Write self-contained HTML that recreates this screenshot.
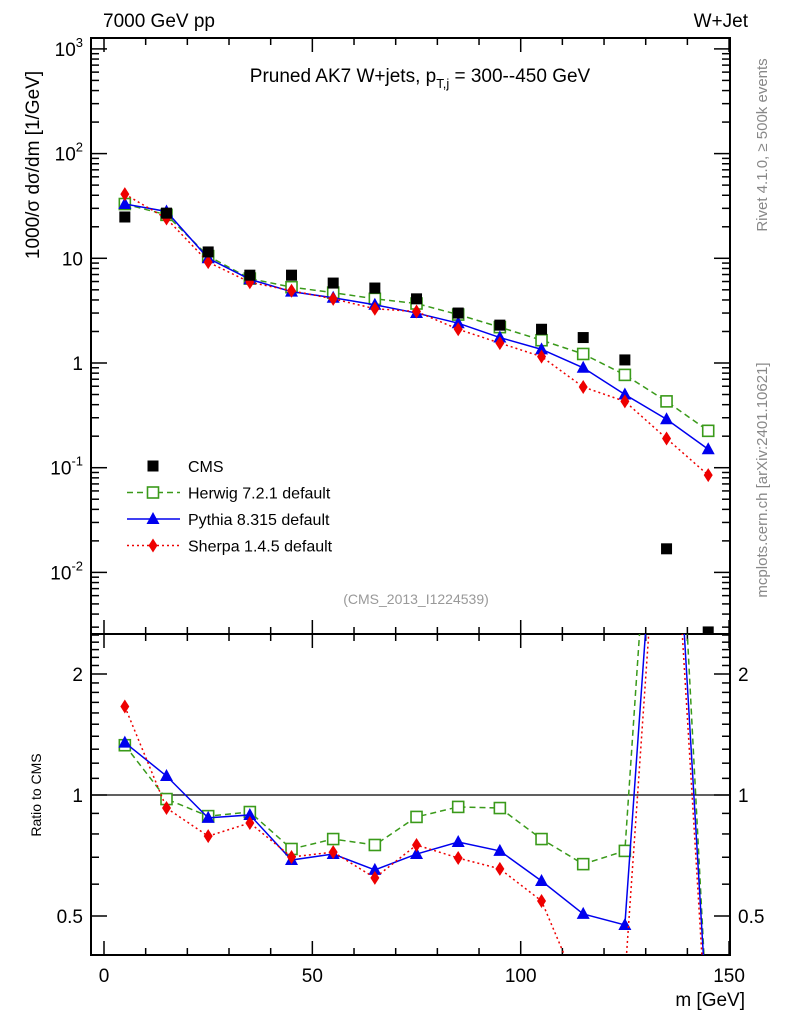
<!DOCTYPE html>
<html><head><meta charset="utf-8"><style>
body{margin:0;background:#fff;}
svg text{font-family:"Liberation Sans",sans-serif;}
</style></head><body>
<svg id="c" width="786" height="1024" xmlns="http://www.w3.org/2000/svg">
<defs>
<clipPath id="cm"><rect x="91" y="38" width="639" height="596"/></clipPath>
<clipPath id="cr"><rect x="91" y="634" width="639" height="321"/></clipPath>
</defs>
<g id="g"></g>
<text x="103" y="27" font-size="19">7000 GeV pp</text>
<text x="748" y="27" font-size="19" text-anchor="end">W+Jet</text>
<text x="420" y="82" font-size="19" text-anchor="middle">Pruned AK7 W+jets, p<tspan font-size="13" dy="6">T,j</tspan><tspan dy="-6"> = 300--450 GeV</tspan></text>
<text transform="translate(39,165) rotate(-90)" font-size="19" text-anchor="middle">1000/σ  dσ/dm [1/GeV]</text>
<text transform="translate(41,795) rotate(-90)" font-size="14" text-anchor="middle">Ratio to CMS</text>
<text x="745" y="1006" font-size="19" text-anchor="end">m [GeV]</text>
<text transform="translate(767,145) rotate(-90)" font-size="15" fill="#888" text-anchor="middle">Rivet 4.1.0, ≥ 500k events</text>
<text transform="translate(767,480) rotate(-90)" font-size="15" fill="#888" text-anchor="middle">mcplots.cern.ch [arXiv:2401.10621]</text>
<text x="416" y="604" font-size="14" fill="#999" text-anchor="middle">(CMS_2013_I1224539)</text>
</svg>
<script>
const xs=[5,15,25,35,45,55,65,75,85,95,105,115,125,135,145];
const cms=[24.8,27,11.5,6.9,6.9,5.8,5.2,4.1,3.0,2.3,2.1,1.75,1.07,0.0168,0.0027];
const herwig=[33,26,10.5,6.4,5.3,4.7,4.1,3.7,2.9,2.2,1.65,1.22,0.77,0.43,0.225];
const pythia=[33,28,10,6.3,4.8,4.2,3.6,3.0,2.4,1.75,1.35,0.9,0.5,0.29,0.15];
const sherpa=[41,24,9.2,5.9,4.9,4.1,3.3,3.1,2.1,1.55,1.15,0.59,0.43,0.19,0.085];
const rHerwig=[1.33,0.977,0.886,0.907,0.734,0.777,0.751,0.882,0.934,0.928,0.777,0.673,0.726,25,0.25];
const rPythia=[1.35,1.115,0.877,0.892,0.689,0.713,0.651,0.713,0.764,0.726,0.611,0.506,0.475,14,0.25];
const rSherpa=[1.66,0.928,0.79,0.852,0.701,0.721,0.622,0.751,0.697,0.655,0.545,0.31,0.35,11,0.22];
const xTicks=[0,50,100,150];
const mainTicks=[3,2,1,0,-1,-2];
const ratioTicks=[2,1,0.5];

const NS="http://www.w3.org/2000/svg",G=document.getElementById('g');
const X=v=>104+v*4.167;
const Y=v=>363-104.7*Math.log10(v);
const R=v=>795-121*Math.log2(v);
function el(t,a,p){const e=document.createElementNS(NS,t);for(const k in a)e.setAttribute(k,a[k]);(p||G).appendChild(e);return e;}
function ln(x1,y1,x2,y2,w){return el('line',{x1,y1,x2,y2,stroke:'#000','stroke-width':w||1.5});}
const f1=el('rect',{x:91,y:38,width:639,height:596,fill:'none',stroke:'#000','stroke-width':2});

const f2=el('rect',{x:91,y:634,width:639,height:321,fill:'none',stroke:'#000','stroke-width':2});

for(let v=0;v<=150;v+=10){const big=v%50==0;const x=X(v);
 ln(x,955,x,955-(big?14:7));ln(x,634,x,634-(big?14:7));ln(x,634,x,634+(big?14:7));ln(x,38,x,38+(big?14:7));}
xTicks.forEach(v=>{const t=el('text',{x:X(v),y:982,'font-size':19,'text-anchor':'middle'});t.textContent=v;
 });
for(let d=-3;d<=3;d++)for(let m=1;m<10;m++){const v=m*Math.pow(10,d);const y=Y(v);if(y<38||y>634)continue;
 const l=m==1?16:8;ln(91,y,91+l,y);ln(730,y,730-l,y);}
mainTicks.forEach(p=>{const y=Y(Math.pow(10,p));const t=el('text',{x:83,y:y+7,'font-size':19,'text-anchor':'end'});
 if(p==1)t.textContent='10';else if(p==0)t.textContent='1';else{t.textContent='10';const s=el('tspan',{dy:-9,'font-size':13},t);s.textContent=p;}
 });
[0.4,0.5,0.6,0.7,0.8,0.9,1,1.1,1.2,1.3,1.4,1.5,1.6,1.7,1.8,1.9,2,2.1,2.2,2.3,2.4,2.5].forEach(v=>{const y=R(v);if(y<634||y>955)return;
 const l=(v==0.5||v==1||v==2)?16:8;ln(91,y,91+l,y);ln(730,y,730-l,y);});
ratioTicks.forEach(v=>{const y=R(v);[[83,'end'],[738,'start']].forEach(([x,a])=>{const t=el('text',{x,y:y+7,'font-size':19,'text-anchor':a});t.textContent=v;
 });});
ln(91,R(1),730,R(1),1.3);
const cfg=[['herwig',herwig,rHerwig,'#3a9a1a','6,4','sq'],['pythia',pythia,rPythia,'#0000ee','','tri'],['sherpa',sherpa,rSherpa,'#ee0000','2,3','dia']];
const gm=el('g',{'clip-path':'url(#cm)'}),gr=el('g',{'clip-path':'url(#cr)'});
function marker(p,x,y,s,c){if(s=='sq')return el('rect',{x:x-5.5,y:y-5.5,width:11,height:11,fill:'#fff',stroke:c,'stroke-width':1.6},p);
 if(s=='tri')return el('polygon',{points:`${x},${y-7} ${x-6.5},${y+5} ${x+6.5},${y+5}`,fill:c},p);
 if(s=='dia')return el('polygon',{points:`${x},${y-7} ${x-4.5},${y} ${x},${y+7} ${x+4.5},${y}`,fill:c},p);
 return el('rect',{x:x-5.5,y:y-5.5,width:11,height:11,fill:c},p);}
cfg.forEach(([n,d,r,c,da,s])=>{
 const pl=el('polyline',{points:xs.map((x,i)=>X(x)+','+Y(d[i])).join(' '),fill:'none',stroke:c,'stroke-width':1.5,'stroke-dasharray':da},gm);
 
 xs.forEach((x,i)=>{const m=marker(gm,X(x),Y(d[i]),s,c);});
 const rl=el('polyline',{points:xs.map((x,i)=>X(x)+','+R(r[i])).join(' '),fill:'none',stroke:c,'stroke-width':1.5,'stroke-dasharray':da},gr);
 
 xs.forEach((x,i)=>{const m=marker(gr,X(x),R(r[i]),s,c);});
});
xs.forEach((x,i)=>{const m=marker(gm,X(x),Y(cms[i]),'cms','#000');});
const leg=[['CMS','cms','#000',''],['Herwig 7.2.1 default','sq','#3a9a1a','6,4'],['Pythia 8.315 default','tri','#0000ee',''],['Sherpa 1.4.5 default','dia','#ee0000','2,3']];
leg.forEach(([t,s,c,da],i)=>{const y=466+i*26.5;
 if(i>0){el('line',{x1:127,y1:y,x2:180,y2:y,stroke:c,'stroke-width':1.5,'stroke-dasharray':da});}
 const m=marker(G,153,y,s,c);
 const tx=el('text',{x:188,y:y+6,'font-size':16});tx.textContent=t;
 });
</script>
</body></html>
